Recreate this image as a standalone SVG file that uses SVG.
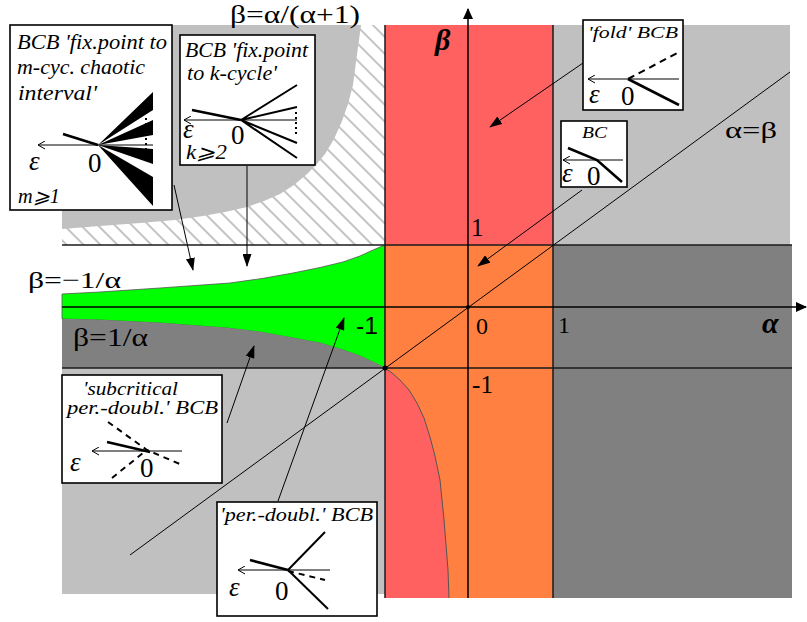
<svg xmlns="http://www.w3.org/2000/svg" width="807" height="622" viewBox="0 0 807 622">
<defs>
<style>
.box{fill:#fff;stroke:#000;stroke-width:1.6}
.t{font-family:"Liberation Serif",serif;font-style:italic;fill:#000}
.r{font-family:"Liberation Serif",serif;fill:#000}
.eps{font-family:"Liberation Serif",serif;font-style:italic;font-size:27px;fill:#000}
.zero{font-family:"Liberation Serif",serif;font-size:27px;fill:#000}
.bl{stroke:#1a1a1a;stroke-width:1.5;fill:none}
.thin{stroke:#000;stroke-width:1;fill:none}
.thk{stroke:#000;stroke-width:2.6;fill:none}
.med{stroke:#000;stroke-width:2;fill:none}
.dash{stroke:#000;stroke-width:2;fill:none;stroke-dasharray:6 5}
.conn{stroke:#000;stroke-width:1;fill:none;marker-end:url(#ah)}
.eax{stroke:#000;stroke-width:1;fill:none;marker-end:url(#oa)}
</style>
<marker id="ah" markerWidth="13" markerHeight="9" refX="12" refY="4.5" orient="auto" markerUnits="userSpaceOnUse"><path d="M0,0 L13,4.5 L0,9 z" fill="#000"/></marker>
<marker id="axh" markerWidth="11" markerHeight="10" refX="10" refY="5" orient="auto" markerUnits="userSpaceOnUse"><path d="M0,0 L11,5 L0,10 z" fill="#000"/></marker>
<marker id="oa" markerWidth="9" markerHeight="9" refX="8" refY="4.5" orient="auto" markerUnits="userSpaceOnUse"><path d="M1,0.5 L8,4.5 L1,8.5" fill="none" stroke="#000" stroke-width="1"/></marker>
<pattern id="hatch" width="12" height="12" patternUnits="userSpaceOnUse" patternTransform="rotate(45)"><line x1="0" y1="6" x2="12" y2="6" stroke="#888" stroke-width="1"/></pattern>
</defs>

<g id="regions">
<rect x="62" y="25" width="323" height="220" fill="#fff"/>
<rect x="62" y="25" width="323" height="220" fill="url(#hatch)"/>
<path d="M62,25 L361,25 L359,40 L356,62 L353,85 L348,104 L342,121 L334,139 L325,154 L316,165 L307,174 L294,185 L280,194 L264,201 L247,207 L225,212 L203,216 L175,220 L140,223 L100,226 L62,229 Z" fill="#c0c0c0"/>
<rect x="62" y="245" width="323" height="123" fill="#fff"/>
<path d="M62,294 L100,292 L160,288 L230,283 L262,278.5 L293,273 L320,267.5 L343,262 L360,256 L373,250 L385,245 L385,368 L373,362 L360,356 L343,350 L320,343 L293,338 L260,332 L227,328 L160,323 L100,320 L62,319 Z" fill="#00ff00" stroke="#555" stroke-width="0.8"/>
<path d="M62,319 L100,320 L160,323 L227,328 L260,332 L293,338 L320,343 L343,350 L360,356 L373,362 L385,368 L62,368 Z" fill="#808080"/>
<rect x="62" y="368" width="323" height="226" fill="#c0c0c0"/>
<rect x="385" y="25" width="168" height="573" fill="#ff6060"/>
<rect x="385" y="245" width="168" height="123" fill="#ff8040"/>
<path d="M385,368 L553,368 L553,598 L449,598 L448,570 L444,520 L440,480 L435,456 L430,437 L424,418 L417,403 L409,390 L400,380 L392,373 Z" fill="#ff8040"/>
<path d="M385,368 L392,373 L400,380 L409,390 L417,403 L424,418 L430,437 L435,456 L440,480 L444,520 L448,570 L449,598" fill="none" stroke="#555" stroke-width="1"/>
<rect x="553" y="25" width="237" height="220" fill="#c0c0c0"/>
<rect x="553" y="245" width="239" height="353" fill="#808080"/>
</g>

<g id="axes">
<line class="bl" x1="62" y1="245" x2="792" y2="245"/>
<line class="bl" x1="62" y1="368" x2="792" y2="368"/>
<line class="bl" x1="385" y1="25" x2="385" y2="598"/>
<line class="bl" x1="553" y1="25" x2="553" y2="598"/>
<line x1="62" y1="307" x2="806" y2="307" stroke="#000" stroke-width="1.5" marker-end="url(#axh)"/>
<line x1="468" y1="598" x2="468" y2="9" stroke="#000" stroke-width="1.5" marker-end="url(#axh)"/>
<line class="thin" x1="130" y1="555" x2="790" y2="72"/>
<circle cx="385" cy="368" r="2.5" fill="#000"/>
<circle cx="468" cy="307" r="2" fill="#000"/>
</g>

<g id="labels">
<text class="r" x="230" y="23" font-size="25" textLength="130" lengthAdjust="spacingAndGlyphs">β=α/(α+1)</text>
<text class="r" x="28" y="288" font-size="24" textLength="93" lengthAdjust="spacingAndGlyphs">β=−1/α</text>
<text class="r" x="73" y="346" font-size="25" textLength="75" lengthAdjust="spacingAndGlyphs">β=1/α</text>
<text class="r" x="725" y="138" font-size="24" textLength="52" lengthAdjust="spacingAndGlyphs">α=β</text>
<text class="r" x="471" y="236" font-size="25">1</text>
<text class="r" x="476" y="334" font-size="24">0</text>
<text class="r" x="558" y="333" font-size="24">1</text>
<text x="356" y="334" font-size="23" font-family="Liberation Sans, sans-serif" textLength="22" lengthAdjust="spacingAndGlyphs">-1</text>
<text class="r" x="472" y="393" font-size="25" textLength="21" lengthAdjust="spacingAndGlyphs">-1</text>
<text class="r" x="435" y="50" font-size="30" font-style="italic" font-weight="bold">β</text>
<text class="r" x="762" y="333" font-size="30" font-style="italic" font-weight="bold">α</text>
</g>

<g id="connectors">
<line class="conn" x1="174" y1="185" x2="193" y2="270"/>
<line class="conn" x1="247" y1="166" x2="247" y2="266"/>
<line class="conn" x1="583" y1="63" x2="490" y2="127"/>
<line class="conn" x1="582" y1="190" x2="478" y2="266"/>
<line class="conn" x1="227" y1="423" x2="254" y2="346"/>
<line class="conn" x1="278" y1="501" x2="344" y2="318"/>
</g>

<g id="box-chaotic">
<rect class="box" x="10" y="25" width="162" height="185"/>
<text class="t" x="17" y="49" font-size="20" textLength="150" lengthAdjust="spacingAndGlyphs">BCB 'fix.point to</text>
<text class="t" x="17" y="74" font-size="20" textLength="128" lengthAdjust="spacingAndGlyphs">m-cyc. chaotic</text>
<text class="t" x="18" y="100" font-size="20" textLength="79" lengthAdjust="spacingAndGlyphs">interval'</text>
<line class="eax" x1="153" y1="145" x2="38" y2="145"/>
<line class="thk" x1="63" y1="134" x2="98" y2="145"/>
<path d="M98,145 L153,92 L153,110 Z M98,145 L153,120 L153,135 Z M98,145 L153,149 L153,164 Z M98,145 L153,177 L153,206 Z" fill="#000"/>
<line x1="146" y1="118" x2="146" y2="158" stroke="#000" stroke-width="2" stroke-dasharray="2 3"/>
<text class="eps" x="29" y="170">ε</text>
<text class="zero" x="88" y="172">0</text>
<text class="t" x="18" y="203" font-size="20" textLength="42" lengthAdjust="spacingAndGlyphs">m⩾1</text>
</g>

<g id="box-kcycle">
<rect class="box" x="180" y="35" width="135" height="130"/>
<text class="t" x="185" y="57" font-size="20" textLength="123" lengthAdjust="spacingAndGlyphs">BCB 'fix.point</text>
<text class="t" x="187" y="80" font-size="20" textLength="90" lengthAdjust="spacingAndGlyphs">to k-cycle'</text>
<line class="eax" x1="297" y1="120" x2="184" y2="120"/>
<line class="thk" x1="192" y1="110" x2="241" y2="120"/>
<path class="med" d="M241,120 L297,85 M241,120 L297,107 M241,120 L297,143 M241,120 L297,158"/>
<line x1="296" y1="112" x2="296" y2="135" stroke="#000" stroke-width="2" stroke-dasharray="2 3"/>
<text class="eps" x="183" y="138">ε</text>
<text class="zero" x="231" y="144">0</text>
<text class="t" x="186" y="159" font-size="20" textLength="41" lengthAdjust="spacingAndGlyphs">k⩾2</text>
</g>

<g id="box-fold">
<rect class="box" x="583" y="20" width="100" height="90"/>
<text class="t" x="588" y="38" font-size="17" textLength="90" lengthAdjust="spacingAndGlyphs">'fold' BCB</text>
<line class="eax" x1="679" y1="79" x2="588" y2="79"/>
<line x1="628" y1="79" x2="679" y2="52" stroke="#000" stroke-width="2" stroke-dasharray="7 5"/>
<line class="thk" x1="628" y1="79" x2="679" y2="105"/>
<text class="eps" x="589" y="103">ε</text>
<text class="zero" x="621" y="105">0</text>
</g>

<g id="box-bc">
<rect class="box" x="561" y="121" width="66" height="66"/>
<text class="t" x="582" y="138" font-size="17" textLength="25" lengthAdjust="spacingAndGlyphs">BC</text>
<line class="eax" x1="623" y1="160" x2="563" y2="160"/>
<polyline class="thk" points="568,148 597,160 622,182"/>
<text class="eps" x="562" y="182" font-size="24">ε</text>
<text class="zero" x="587" y="185">0</text>
</g>

<g id="box-subcritical">
<rect class="box" x="62" y="375" width="160" height="108"/>
<text class="t" x="83" y="395" font-size="19" textLength="95" lengthAdjust="spacingAndGlyphs">'subcritical</text>
<text class="t" x="67" y="414" font-size="19" textLength="151" lengthAdjust="spacingAndGlyphs">per.-doubl.' BCB</text>
<line class="eax" x1="182" y1="451" x2="92" y2="451"/>
<line class="thk" x1="107" y1="442" x2="150" y2="452"/>
<polyline class="dash" points="108,422 147,450 182,465"/>
<line class="dash" x1="112" y1="478" x2="143" y2="453"/>
<text class="eps" x="70" y="471">ε</text>
<text class="zero" x="140" y="477">0</text>
</g>

<g id="box-perdoubl">
<rect class="box" x="217" y="502" width="160" height="114"/>
<text class="t" x="220" y="521" font-size="19" textLength="153" lengthAdjust="spacingAndGlyphs">'per.-doubl.' BCB</text>
<line class="eax" x1="330" y1="570" x2="238" y2="570"/>
<line class="thk" x1="250" y1="560" x2="288" y2="570"/>
<line class="med" x1="288" y1="570" x2="325" y2="532"/>
<line class="med" x1="288" y1="570" x2="328" y2="609"/>
<line class="dash" x1="288" y1="571" x2="325" y2="580"/>
<text class="eps" x="229" y="596">ε</text>
<text class="zero" x="275" y="600">0</text>
</g>
</svg>
